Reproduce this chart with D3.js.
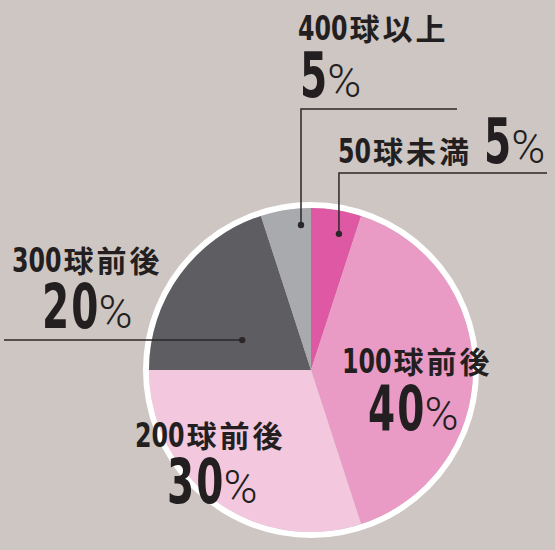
<!DOCTYPE html>
<html>
<head>
<meta charset="utf-8">
<script src="https://cdn.jsdelivr.net/npm/d3@7"></script>
<style>
  html, body { margin: 0; padding: 0; background: #cec6c2; }
  svg { display: block; }
</style>
</head>
<body>
<div class="container"></div>
<script>
// chart data
const categories = ["50球未満", "100球前後", "200球前後", "300球前後", "400球以上"];
const values = [5, 40, 30, 20, 5];
const colors = ["#de58a3", "#e99bc6", "#f3c8de", "#5e5d62", "#a9aaae"];

const width = 555;
const height = 550;
const center = { x: 311, y: 370 };
const radius = 162;

const numFont = "'DejaVu Sans Condensed', 'DejaVu Sans', sans-serif";
const cjkFont = "'Noto Sans CJK JP', sans-serif";
const pctFont = "Roboto, 'Noto Sans', sans-serif";
const ink = "#231f20";

// label placement: text position, leader dot (angle in degrees, radius)
const labelLayout = [
  { x: 338, y: 163, inline: true, dotAngle: 11.6, dotR: 139, elbowY: 173, lineEnd: 547 },
  { x: 342, y: 373, x2: 368, y2: 430 },
  { x: 135, y: 447, x2: 167, y2: 503 },
  { x: 12, y: 272, x2: 42, y2: 328, dotAngle: 293.5, dotR: 75, lineEnd: 4 },
  { x: 298, y: 40, x2: 300, y2: 97, dotAngle: 356.05, dotR: 145.3, elbowY: 109, lineEnd: 457 }
];

const svg = d3.select(".container")
  .append("svg")
  .attr("width", width)
  .attr("height", height);

const pie = d3.pie().sort(null).value(d => d);
const arc = d3.arc().innerRadius(0).outerRadius(radius);
const arcs = pie(values);

const g = svg.append("g")
  .attr("transform", `translate(${center.x},${center.y})`);

// white ring behind the slices
g.append("circle")
  .attr("r", radius + 3)
  .attr("fill", "none")
  .attr("stroke", "#ffffff")
  .attr("stroke-width", 6);

g.selectAll("path")
  .data(arcs)
  .join("path")
  .attr("d", arc)
  .attr("fill", (d, i) => colors[i]);

const labels = svg.append("g").attr("fill", ink);

// draw a row of text pieces side by side, squeezing the digits horizontally
function drawRow(x, y, pieces) {
  let cx = x;
  pieces.forEach(p => {
    cx += p.before || 0;
    const t = labels.append("text")
      .attr("transform", `translate(${cx},${y}) scale(${p.sx || 1},1)`)
      .attr("font-family", p.font)
      .attr("font-weight", p.weight)
      .attr("font-size", p.size)
      .attr("letter-spacing", p.ls || 0)
      .text(p.text);
    cx += t.node().getComputedTextLength() * (p.sx || 1);
  });
  return cx;
}

function namePieces(name) {
  const m = name.match(/^(\d+)(.*)$/);
  return [
    { text: m[1], font: numFont, weight: "bold", size: 33, sx: 0.8 },
    { text: m[2], font: cjkFont, weight: "bold", size: 30, ls: 3, before: 2 }
  ];
}

function valuePieces(v, before) {
  return [
    { text: String(v), font: numFont, weight: "bold", size: 62, sx: 0.7, ls: 3, before: before || 0 },
    { text: "%", font: pctFont, weight: 300, size: 46, before: -2 }
  ];
}

categories.forEach((name, i) => {
  const L = labelLayout[i];
  if (L.inline) {
    drawRow(L.x, L.y, namePieces(name).concat(valuePieces(values[i], 12)));
  } else {
    drawRow(L.x, L.y, namePieces(name));
    drawRow(L.x2, L.y2, valuePieces(values[i]));
  }

  // leader line with a dot inside the slice
  if (L.dotAngle !== undefined) {
    const p = d3.pointRadial(L.dotAngle * Math.PI / 180, L.dotR);
    const dx = center.x + p[0];
    const dy = center.y + p[1];
    const pts = L.elbowY !== undefined
      ? [[L.lineEnd, L.elbowY], [dx, L.elbowY], [dx, dy]]
      : [[L.lineEnd, dy], [dx, dy]];
    labels.append("path")
      .attr("d", d3.line()(pts))
      .attr("fill", "none")
      .attr("stroke", "#2b2728")
      .attr("stroke-width", 1.5);
    labels.append("circle")
      .attr("cx", dx)
      .attr("cy", dy)
      .attr("r", 3.2)
      .attr("fill", "#2b2728");
  }
});
</script>
</body>
</html>
